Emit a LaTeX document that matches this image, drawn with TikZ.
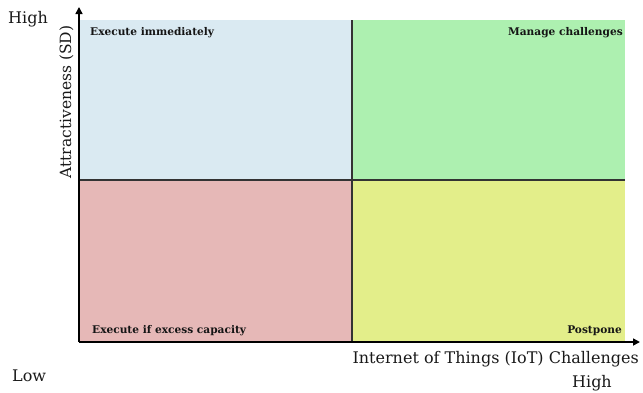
\documentclass[tikz,border=0pt]{standalone}
\usepackage{fontspec}
\setmainfont{DejaVu Serif}
\usetikzlibrary{arrows.meta}
\definecolor{qblue}{RGB}{218,234,242}
\definecolor{qgreen}{RGB}{173,240,176}
\definecolor{qpink}{RGB}{230,184,183}
\definecolor{qyellow}{RGB}{227,238,138}
\definecolor{txt}{RGB}{25,25,25}
\tikzset{
  qlabel/.style={font=\fontsize{10.6}{12}\selectfont\bfseries, text=txt!85!black, inner sep=0pt},
  axlabel/.style={font=\fontsize{16}{18}\selectfont, text=txt, inner sep=0pt},
  axis/.style={line width=1.6pt, -{Triangle[length=7pt,width=7pt]}},
  divider/.style={line width=1.2pt, draw=black!80}
}
\begin{document}
\begin{tikzpicture}[x=1pt,y=-1pt]
\useasboundingbox (0,0) rectangle (643,392);
% quadrants
\fill[qblue]   (80,20) rectangle (352,180);
\fill[qgreen]  (352,20) rectangle (625,180);
\fill[qpink]   (80,180) rectangle (352,341);
\fill[qyellow] (352,180) rectangle (625,341);
% dividers
\coordinate (vt) at (352,20);
\coordinate (vb) at (352,341);
\coordinate (hl) at (80,180);
\coordinate (hr) at (625,180);
\draw[divider] (vt) -- (vb);
\draw[divider] (hl) -- (hr);
% axes
\coordinate (o) at (79,342);
\coordinate (ytop) at (79,7);
\coordinate (xend) at (640,342);
\draw[axis] (o) -- (ytop);
\draw[axis] (o) -- (xend);
% quadrant labels
\node[qlabel, anchor=base west] (q1) at (90,35) {Execute immediately};
\node[qlabel, anchor=base east] (q2) at (623,35) {Manage challenges};
\node[qlabel, anchor=base west] (q3) at (92,333) {Execute if excess capacity};
\node[qlabel, anchor=base east] (q4) at (622,333) {Postpone};
% axis labels
\node[axlabel, anchor=base west] (hi) at (8,23) {High};
\node[axlabel, anchor=base west] (lo) at (12,381) {Low};
\node[axlabel, anchor=base east] (xl) at (639,363) {Internet of Things (IoT) Challenges};
\node[axlabel, anchor=base east] (xh) at (612,387) {High};
\node[axlabel, font=\fontsize{15.5}{17}\selectfont, rotate=90, anchor=base] (yl) at (71,102) {Attractiveness (SD)};
\end{tikzpicture}
\end{document}
